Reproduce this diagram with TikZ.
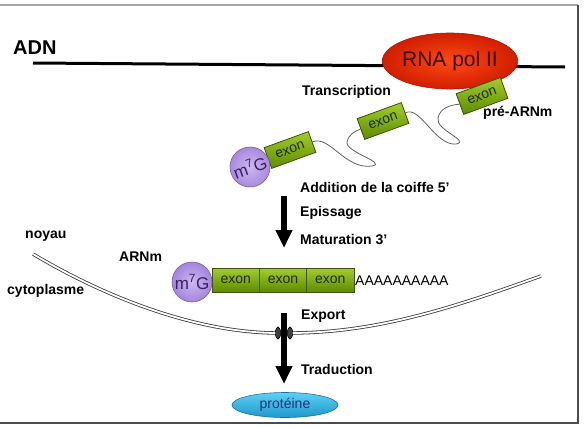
\documentclass[tikz,border=0pt]{standalone}
\usepackage{fontspec}
\setmainfont{Liberation Sans}
\usetikzlibrary{arrows.meta,shapes.geometric,shadings}
\definecolor{exonlight}{HTML}{A2CC2E}
\definecolor{exondark}{HTML}{5E8C02}
\definecolor{exonborder}{HTML}{3C5200}
\definecolor{exontext}{HTML}{1E2C00}
\definecolor{caplight}{HTML}{CDB6F2}
\definecolor{capdark}{HTML}{A385DA}
\definecolor{capborder}{HTML}{7A5CB0}
\definecolor{captext}{HTML}{3A2060}
\definecolor{pollight}{HTML}{FF4A14}
\definecolor{poldark}{HTML}{D01E00}
\definecolor{polborder}{HTML}{B01800}
\definecolor{poltext}{HTML}{3A0800}
\definecolor{protlight}{HTML}{5CD0F5}
\definecolor{protdark}{HTML}{1E98CC}
\definecolor{protborder}{HTML}{1E6E9E}
\definecolor{prottext}{HTML}{1E3480}
\definecolor{membr}{HTML}{3A3A3A}
\begin{document}
\begin{tikzpicture}[x=1pt,y=-1pt,
  lab/.style={font=\bfseries\fontsize{14}{16}\selectfont, inner sep=0pt, anchor=west},
  exonbox/.style={draw=exonborder, line width=0.8pt, top color=exonlight, bottom color=exondark,
    minimum width=47pt, minimum height=22pt, inner sep=0pt, font=\fontsize{14}{14}\selectfont, text=exontext},
  capnode/.style={circle, draw=capborder, line width=0.6pt, inner color=caplight, outer color=capdark,
    minimum size=40pt, inner sep=0pt, font=\fontsize{17}{17}\selectfont, text=captext},
  bigarrow/.style={line width=5.5pt, -{Triangle[width=16pt,length=18pt]}},
  intron/.style={draw=gray!75!black, line width=0.8pt},
  membrane/.style={draw=membr, line width=0.8pt, double=white, double distance=1.8pt},
  poreball/.style={ellipse, draw=black, fill=gray!50!black, minimum width=5pt, minimum height=12pt, inner sep=0pt}
]
\useasboundingbox (0,0) rectangle (584,426);
% frame
\draw[gray!70, line width=1.2pt] (0,5) -- (578,5);
\draw[gray!60!black, line width=1.8pt] (578,5) -- (578,423) -- (0,423);

% DNA
\node[font=\bfseries\fontsize{20}{20}\selectfont, inner sep=0pt, anchor=west] (adn) at (13,48) {ADN};
\coordinate (dnaL) at (33,63);
\coordinate (dnaR) at (565,67);
\draw[line width=3pt] (dnaL) -- (dnaR);
\node[ellipse, draw=polborder, line width=0.6pt, inner color=pollight, outer color=poldark,
  minimum width=135pt, minimum height=56pt, inner sep=0pt, text=poltext,
  font=\fontsize{21}{21}\selectfont] (pol) at (450,61) {RNA pol II};

% pre-mRNA
\node[exonbox, rotate=20] (e1) at (290,150) {exon};
\node[exonbox, rotate=20] (e2) at (383,121) {exon};
\node[exonbox, rotate=20] (e3) at (482,96) {exon};
\node[capnode, rotate=20] (c1) at (250,167) {m\textsuperscript{7}G};
\draw[intron] (e1.east) .. controls (330,135) and (345,170) .. (372,166)
  .. controls (388,163) and (345,152) .. (347,142)
  .. controls (349,134) and (355,131) .. (e2.west);
\draw[intron] (e2.east) .. controls (420,105) and (435,146) .. (456,144)
  .. controls (471,141) and (435,130) .. (438,118)
  .. controls (440,108) and (450,105) .. (e3.west);

\node[lab] (trans) at (302,92) {Transcription};
\node[lab] (pre) at (483,113) {pré-ARNm};
\node[lab] (add) at (300,187) {Addition de la coiffe 5’};
\node[lab] (epi) at (300,213) {Epissage};
\node[lab] (mat) at (300,240) {Maturation 3’};

\coordinate (a1s) at (284,196);
\coordinate (a1e) at (284,248);
\draw[bigarrow] (a1s) -- (a1e);

% membrane
\node[lab] (noy) at (25,236) {noyau};
\node[lab] (cyt) at (7,291) {cytoplasme};
\coordinate (memL) at (33,254);
\coordinate (memR) at (541,276);
\node[poreball] (pl) at (278,333) {};
\node[poreball] (pr) at (290,333) {};
\draw[membrane] (memL) .. controls (110,300) and (200,333) .. (pl.center);
\draw[membrane] (pr.center) .. controls (380,333) and (460,305) .. (memR);
\node[poreball] at (pl) {};
\node[poreball] at (pr) {};

% mature mRNA
\node[lab] (arnm) at (119,257) {ARNm};
\node[exonbox, minimum width=47.4pt, minimum height=24pt] (m1) at (235.7,280) {exon};
\node[exonbox, minimum width=47.4pt, minimum height=24pt] (m2) at (283,280) {exon};
\node[exonbox, minimum width=47.4pt, minimum height=24pt] (m3) at (330.3,280) {exon};
\node[capnode] (c2) at (192,282) {m\textsuperscript{7}G};
\node[font=\fontsize{14}{14}\selectfont, inner sep=0pt, anchor=west] (polya) at (355,281) {AAAAAAAAAA};

% export / translation
\node[lab] (exp) at (301,316) {Export};
\coordinate (a2s) at (284,313);
\coordinate (a2e) at (284,384);
\draw[bigarrow] (a2s) -- (a2e);
\node[lab] (trad) at (301,369) {Traduction};
\node[ellipse, draw=protborder, line width=0.6pt, top color=protlight, bottom color=protdark,
  minimum width=106pt, minimum height=25pt, inner sep=0pt, text=prottext,
  font=\fontsize{14}{14}\selectfont] (prot) at (285,405) {protéine};
\end{tikzpicture}
\end{document}
